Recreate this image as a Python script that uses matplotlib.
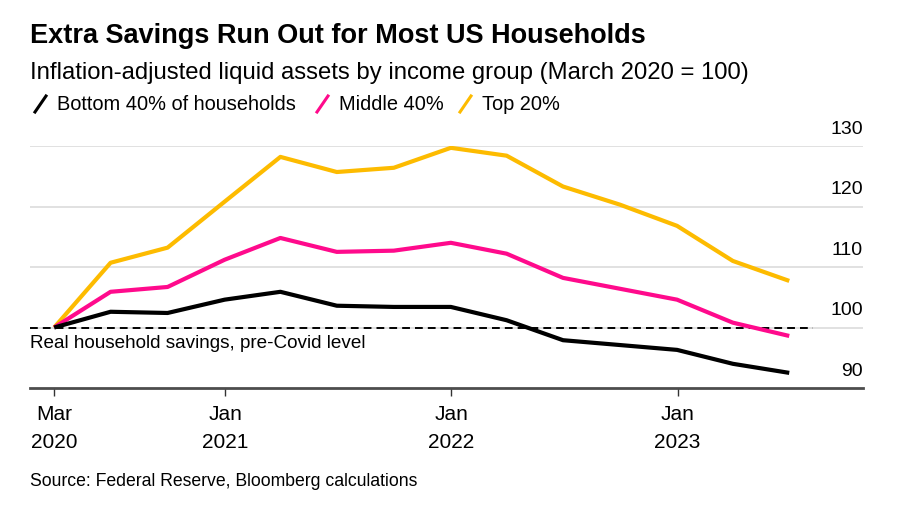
import matplotlib
matplotlib.use("Agg")
import matplotlib.pyplot as plt
from matplotlib.lines import Line2D
import pandas as pd

plt.rcParams['font.family'] = ['Liberation Sans', 'DejaVu Sans']

# quarterly observations, March 2020 = 100
dates = pd.date_range("2020-03-31", periods=14, freq="QE")
bottom40 = [100, 102.6, 102.4, 104.6, 105.9, 103.6, 103.4, 103.4, 101.2, 97.9, 97.1, 96.3, 94.0, 92.5]
middle40 = [100, 105.9, 106.7, 111.2, 114.8, 112.5, 112.7, 114.0, 112.2, 108.2, 106.4, 104.6, 100.8, 98.6]
top20 = [100, 110.7, 113.2, 120.8, 128.2, 125.7, 126.4, 129.7, 128.4, 123.3, 120.3, 116.8, 111.0, 107.7]

series_names = ["Bottom 40% of households", "Middle 40%", "Top 20%"]
series_colors = ["#000000", "#ff0a8c", "#fdbb00"]

tick_dates = pd.to_datetime(["2020-03-31", "2021-01-01", "2022-01-01", "2023-01-01"])
tick_labels = ["Mar\n2020", "Jan\n2021", "Jan\n2022", "Jan\n2023"]
y_ticks = [90, 100, 110, 120, 130]

fig = plt.figure(figsize=(9, 5.15), dpi=100)
ax = fig.add_axes([30 / 900, 1 - 388 / 515, 833 / 900, 242 / 515])

ax.set_xlim(pd.Timestamp("2020-02-21"), pd.Timestamp("2023-10-27"))
ax.set_ylim(90, 130)

for v in y_ticks:
    if v > 90:
        ax.axhline(v, color="#dcdcdc", lw=1.2, zorder=0)
    ax.annotate(str(v), xy=(1, v), xycoords=("axes fraction", "data"),
                xytext=(0, 6), textcoords="offset points",
                ha="right", va="bottom", fontsize=14)

# pre-Covid reference line
ax.axhline(100, xmin=0, xmax=783 / 833, color="black", lw=1.4,
           ls=(0, (4, 2.6)), zorder=2)
ax.text(0, 98.8, "Real household savings, pre-Covid level", transform=ax.get_yaxis_transform(),
        ha="left", va="top", fontsize=13.6)

for vals, c in zip([top20, middle40, bottom40], series_colors[::-1]):
    ax.plot(dates, vals, color=c, lw=3, solid_capstyle="butt", zorder=3)

for s in ["top", "right", "left"]:
    ax.spines[s].set_visible(False)
ax.spines["bottom"].set_color("#4d4d4d")
ax.spines["bottom"].set_linewidth(2)

ax.set_yticks([])
ax.set_xticks(tick_dates)
ax.set_xticklabels(tick_labels, fontsize=15, linespacing=1.6)
ax.tick_params(axis="x", length=6, width=1, color="#333333", pad=6)

# header
fig.text(30 / 900, 1 - 36 / 515, "Extra Savings Run Out for Most US Households",
         fontsize=19.5, fontweight="bold", va="center", ha="left")
fig.text(30 / 900, 1 - 73 / 515, "Inflation-adjusted liquid assets by income group (March 2020 = 100)",
         fontsize=17.2, va="center", ha="left")

# legend with slanted strokes
leg_x = [33, 315, 458]
for x0, name, c in zip(leg_x, series_names, series_colors):
    fig.add_artist(Line2D([(x0 + 2) / 900, (x0 + 13) / 900],
                          [1 - 112 / 515, 1 - 96 / 515], color=c, lw=2.2,
                          transform=fig.transFigure))
    fig.text((x0 + 24) / 900, 1 - 104 / 515, name, fontsize=14.4, va="center", ha="left")

fig.text(30 / 900, 1 - 481 / 515, "Source: Federal Reserve, Bloomberg calculations",
         fontsize=12.7, va="center", ha="left")

fig.savefig("out.png", dpi=100)
